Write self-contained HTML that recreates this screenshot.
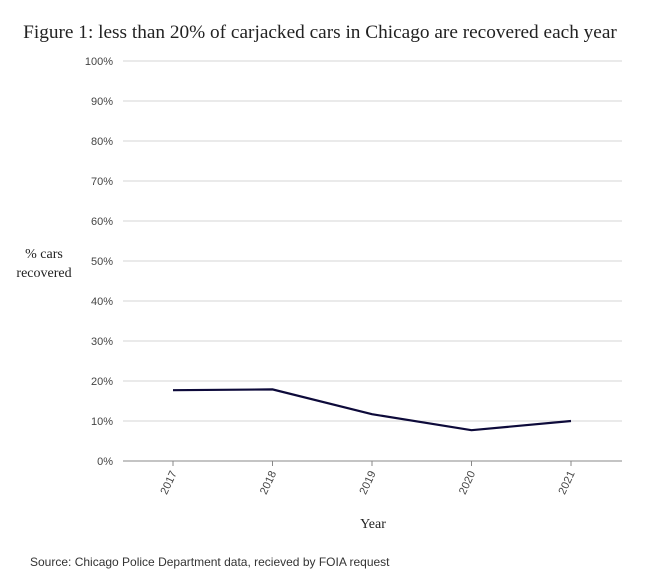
<!DOCTYPE html>
<html><head><meta charset="utf-8"><style>
body{margin:0;background:#fff;width:655px;height:580px;overflow:hidden}
svg text{font-family:"Liberation Sans",sans-serif}
</style></head><body>
<svg id="chart" width="655" height="580" xmlns="http://www.w3.org/2000/svg">
<text x="320" y="38" text-anchor="middle" font-size="19.3" fill="#222" style="font-family:'Liberation Serif',serif">Figure 1: less than 20% of carjacked cars in Chicago are recovered each year</text>
<g id="grid"></g><g id="yticks"></g><g id="xticks"></g><g id="series"></g>
<text x="44" y="258" text-anchor="middle" font-size="14" fill="#222" style="font-family:'Liberation Serif',serif"><tspan x="44">% cars</tspan><tspan x="44" dy="19">recovered</tspan></text>
<text x="373" y="528" text-anchor="middle" font-size="14" fill="#222" style="font-family:'Liberation Serif',serif">Year</text>
<text x="30" y="566" font-size="12" fill="#333">Source: Chicago Police Department data, recieved by FOIA request</text>
</svg>
<script>
const years=["2017","2018","2019","2020","2021"];
const recovered=[17.7,17.9,11.7,7.7,10.0];
const yTicks=[0,10,20,30,40,50,60,70,80,90,100];
const NS="http://www.w3.org/2000/svg";
const L=123,R=622,T=61,B=461;
const x=i=>173+i*99.5;
const y=v=>B-(v/100)*(B-T);
function mk(t,a,p){const e=document.createElementNS(NS,t);for(const k in a)e.setAttribute(k,a[k]);p.appendChild(e);return e;}
const grid=document.getElementById('grid'),yt=document.getElementById('yticks'),xt=document.getElementById('xticks'),se=document.getElementById('series');
yTicks.forEach(v=>{
 const l=mk('line',{x1:L,x2:R,y1:y(v),y2:y(v),stroke:v===0?'#888':'#d6d6d6','stroke-width':1},grid);
 
 
 const t=mk('text',{x:113,y:y(v)+4,'text-anchor':'end','font-size':11,fill:'#444'},yt);
 t.textContent=v+'%';
 
 
});
years.forEach((yr,i)=>{
 const tk=mk('line',{x1:x(i),x2:x(i),y1:B,y2:B+5,stroke:'#888'},xt);
 
 
 const t=mk('text',{x:x(i)+4,y:B+12,'text-anchor':'end','font-size':11,fill:'#444',transform:`rotate(-65 ${x(i)+4} ${B+12})`},xt);
 t.textContent=yr;
 
 
});
const p=mk('polyline',{points:recovered.map((v,i)=>x(i)+','+y(v)).join(' '),fill:'none',stroke:'#0d0a3a','stroke-width':2.2},se);


</script>
</body></html>
